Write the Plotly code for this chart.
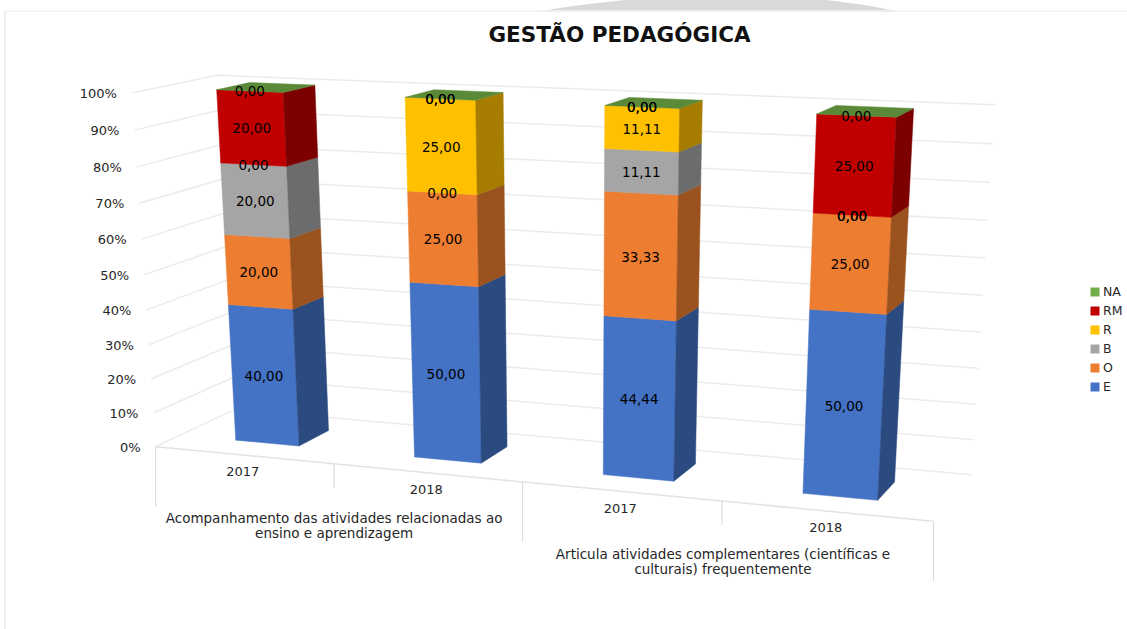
import numpy as np
import plotly.graph_objects as go

# ---- data ----
title = "GESTÃO PEDAGÓGICA"
series_names = ["E", "O", "B", "R", "RM", "NA"]
E  = [40.00, 50.00, 44.44, 50.00]
O  = [20.00, 25.00, 33.33, 25.00]
B  = [20.00, 0.00, 11.11, 0.00]
R  = [0.00, 25.00, 11.11, 0.00]
RM = [20.00, 0.00, 0.00, 25.00]
NA = [0.00, 0.00, 0.00, 0.00]
all_series = [E, O, B, R, RM, NA]
years = ["2017", "2018", "2017", "2018"]
groups = [["Acompanhamento das atividades relacionadas ao", "ensino e aprendizagem"],
          ["Articula atividades complementares (científicas e", "culturais) frequentemente"]]
value_ticks = [0, 10, 20, 30, 40, 50, 60, 70, 80, 90, 100]

# ---- styling ----
front_colors = ["#4472C4", "#ED7D31", "#A5A5A5", "#FFC000", "#C00000", "#70AD47"]
side_colors = ["#2A4A80", "#9A521F", "#6C6C6C", "#A67D00", "#7D0000", "#5A8A38"]
GRID = "#EBEBEB"
AXIS = "#DCDCDC"
TXT = "#262626"
FONT = "DejaVu Sans"
BAR_W = 0.09
D0, D1 = 0.30, 0.70

# ---- the chart's 3-D box: corners of the plot box in the page (calibration) ----
calib = [((0, 0, 0), (156, 447)), ((1, 0, 0), (933, 522)), ((0, 1, 0), (235, 409)),
         ((1, 1, 0), (972, 474)), ((0, 0, 1), (132, 92)), ((0, 1, 1), (217, 76)),
         ((1, 1, 1), (995, 105))]
A, b = [], []
for (X, Y, Z), (px, py) in calib:
    A.append([X, Y, Z, 1, 0, 0, 0, 0, -px * X, -px * Y, -px * Z]); b.append(px)
    A.append([0, 0, 0, 0, X, Y, Z, 1, -py * X, -py * Y, -py * Z]); b.append(py)
sol = np.linalg.lstsq(np.array(A, float), np.array(b, float), rcond=None)[0]
P = np.append(sol, 1.0).reshape(3, 4)


def proj(u, d, v):
    h = P @ np.array([u, d, v / 100.0, 1.0])
    return float(h[0] / h[2]), float(h[1] / h[2])


def poly(points):
    xy = [proj(*p) for p in points]
    xy.append(xy[0])
    return [p[0] for p in xy] + [None], [p[1] for p in xy] + [None]


fig = go.Figure()


def line_trace(pts, color, width):
    fig.add_trace(go.Scatter(x=[p[0] for p in pts], y=[p[1] for p in pts], mode="lines",
                             line=dict(color=color, width=width), hoverinfo="skip", showlegend=False))


# walls
for t in value_ticks:
    line_trace([proj(0, 0, t), proj(0, 1, t), proj(1, 1, t)], GRID, 1.5)
line_trace([proj(0, 0, 0), proj(1, 0, 0)], "#E2E2E2", 1.5)

# tick labels on the value axis
tp = [proj(0, 0, t) for t in value_ticks]
fig.add_trace(go.Scatter(x=[p[0] - 15 for p in tp], y=[p[1] + 2 for p in tp], mode="text",
                         text=[f"{t}%" for t in value_ticks], textposition="middle left",
                         textfont=dict(family=FONT, size=13, color=TXT),
                         hoverinfo="skip", showlegend=False))

# category dividers and labels
stops = [0, 0.25, 0.5, 0.75, 1.0]
long_stop = [True, False, True, False, True]
for s, lg in zip(stops, long_stop):
    x0, y0 = proj(s, 0, 0)
    line_trace([(x0, y0), (x0, y0 + (60 if lg else 24))], AXIS, 1.2)
front = [proj(s, 0, 0) for s in stops]
fig.add_trace(go.Scatter(
    x=[(front[i][0] + front[i + 1][0]) / 2 - 2 for i in range(4)],
    y=[(front[i][1] + front[i + 1][1]) / 2 + 18 for i in range(4)],
    mode="text", text=years, textposition="middle center",
    textfont=dict(family=FONT, size=13, color=TXT), hoverinfo="skip", showlegend=False))
gx, gy, gt = [], [], []
for (cx, cy), lines in zip([((front[0][0] + front[2][0]) / 2 - 5, front[1][1] + 63),
                            ((front[2][0] + front[4][0]) / 2 - 5, front[3][1] + 62)], groups):
    for j, ln in enumerate(lines):
        gx.append(cx); gy.append(cy + (j - 0.5) * 15); gt.append(ln)
fig.add_trace(go.Scatter(x=gx, y=gy, mode="text", text=gt, textposition="middle center",
                         textfont=dict(family=FONT, size=13.5, color=TXT), hoverinfo="skip", showlegend=False))

# stacked boxes
label_x, label_y, label_t = [], [], []
n = len(years)
bases = [0.0] * n
for name, vals, fc, sc in zip(series_names, all_series, front_colors, side_colors):
    fx, fy, sx, sy = [], [], [], []
    for i, val in enumerate(vals):
        c = (i + 0.5) / n
        u0, u1 = c - BAR_W / 2, c + BAR_W / 2
        lo, hi = bases[i], bases[i] + val
        if val > 0:
            px_, py_ = poly([(u0, D0, lo), (u1, D0, lo), (u1, D0, hi), (u0, D0, hi)])
            fx += px_; fy += py_
            px_, py_ = poly([(u1, D0, lo), (u1, D1, lo), (u1, D1, hi), (u1, D0, hi)])
            sx += px_; sy += py_
        lx, ly = proj(c, D0, (lo + hi) / 2)
        label_x.append(lx); label_y.append(ly + 2); label_t.append(f"{val:.2f}".replace(".", ","))
        bases[i] = hi
    if fx:
        fig.add_trace(go.Scatter(x=fx, y=fy, mode="lines", fill="toself", fillcolor=fc, name=name,
                                 line=dict(color=fc, width=0.5), hoverinfo="name", showlegend=False))
        fig.add_trace(go.Scatter(x=sx, y=sy, mode="lines", fill="toself", fillcolor=sc,
                                 line=dict(color=sc, width=0.5), hoverinfo="skip", showlegend=False))

# top caps take the colour of the last (zero-height) series
tx, ty = [], []
for i in range(n):
    c = (i + 0.5) / n
    u0, u1 = c - BAR_W / 2, c + BAR_W / 2
    px_, py_ = poly([(u0, D0, bases[i]), (u1, D0, bases[i]), (u1, D1, bases[i]), (u0, D1, bases[i])])
    tx += px_; ty += py_
fig.add_trace(go.Scatter(x=tx, y=ty, mode="lines", fill="toself", fillcolor=side_colors[-1],
                         line=dict(color=side_colors[-1], width=0.5), hoverinfo="skip", showlegend=False))

# data labels
fig.add_trace(go.Scatter(x=label_x, y=label_y, mode="text", text=label_t, textposition="middle center",
                         textfont=dict(family=FONT, size=13.5, color="#000000"),
                         hoverinfo="skip", showlegend=False))

# legend
for k, (name, col) in enumerate(zip(series_names, front_colors)):
    fig.add_trace(go.Scatter(x=[1095], y=[387 - 19 * k], mode="markers", name=name,
                             marker=dict(symbol="square", size=9, color=col), showlegend=False))
fig.add_trace(go.Scatter(x=[1103] * 6, y=[388 - 19 * k for k in range(6)], mode="text", text=series_names,
                         textposition="middle right", textfont=dict(family=FONT, size=12.5, color=TXT),
                         hoverinfo="skip", showlegend=False))

fig.update_layout(
    width=1127, height=629, margin=dict(l=0, r=0, t=0, b=0),
    paper_bgcolor="white", plot_bgcolor="white", showlegend=False,
    title=dict(text=f"<b>{title}</b>", x=619.5 / 1127, xanchor="center", y=1 - 34 / 629, yanchor="middle",
               font=dict(family="DejaVu Sans", size=21.5, color="#111111")),
    xaxis=dict(range=[0, 1127], visible=False, fixedrange=True),
    yaxis=dict(range=[629, 0], visible=False, fixedrange=True),
    shapes=[
        dict(type="path", xref="x", yref="y", layer="below",
             path="M 535 12 Q 575 5 625 0 L 825 0 Q 872 5 899 12 Z",
             fillcolor="#D9D9D9", line=dict(width=0)),
        dict(type="line", xref="x", yref="y", x0=5, x1=1127, y0=11, y1=11, layer="below",
             line=dict(color="#F3F3F3", width=1.5)),
        dict(type="line", xref="x", yref="y", x0=5, x1=5, y0=11, y1=629, layer="below",
             line=dict(color="#E4E4E4", width=1.2)),
    ],
)
fig.write_html("out.html", config=dict(displayModeBar=False),
               post_script="document.body.style.margin='0';document.body.style.overflow='hidden';")
